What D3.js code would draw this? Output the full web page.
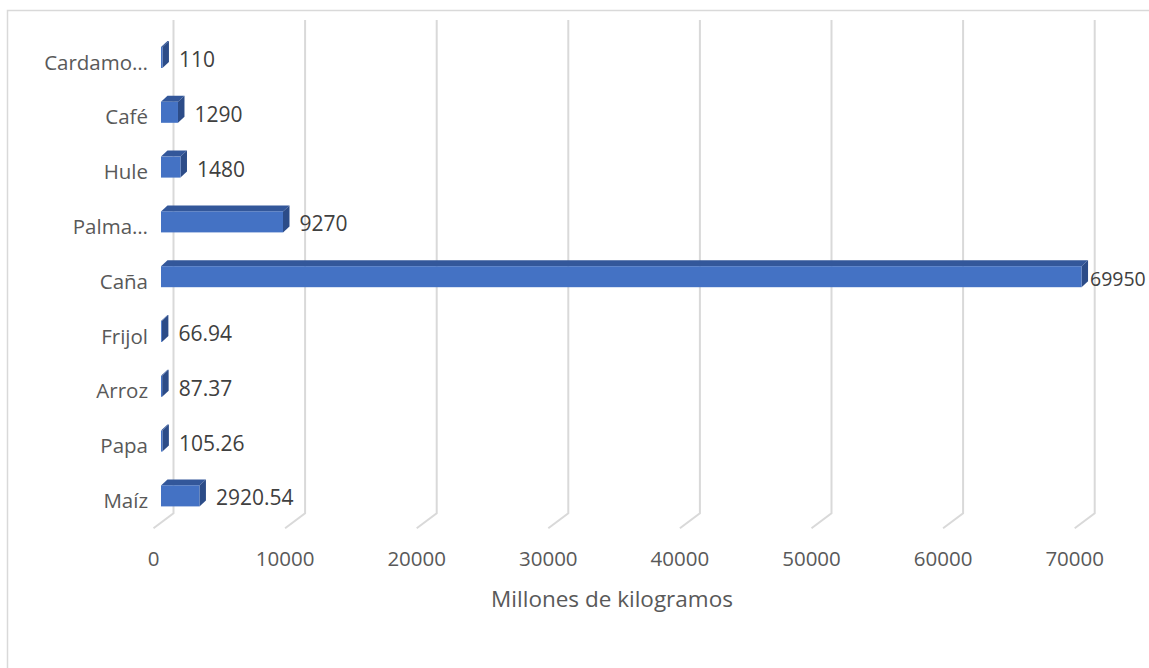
<!DOCTYPE html>
<html>
<head>
<meta charset="utf-8">
<script src="https://cdn.jsdelivr.net/npm/d3@7"></script>
<style>
  body { margin: 0; background: #fff; }
  text { font-family: "Open Sans", sans-serif; }
</style>
</head>
<body>
<script>
// data, bottom to top as in the sheet
var categories = ["Maíz", "Papa", "Arroz", "Frijol", "Caña", "Palma…", "Hule", "Café", "Cardamo…"];
var values = [2920.54, 105.26, 87.37, 66.94, 69950, 9270, 1480, 1290, 110];
var valueLabels = ["2920.54", "105.26", "87.37", "66.94", "69950", "9270", "1480", "1290", "110"];
var tickValues = [0, 10000, 20000, 30000, 40000, 50000, 60000, 70000];
var axisTitle = "Millones de kilogramos";

var width = 1149, height = 668;

var svg = d3.select("body").append("svg")
    .attr("width", width)
    .attr("height", height);

// chart border
svg.append("rect")
    .attr("x", 7.5).attr("y", 10.5)
    .attr("width", 1160).attr("height", 680)
    .attr("fill", "none")
    .attr("stroke", "#d9d9d9")
    .attr("stroke-width", 1.5);

var x = d3.scaleLinear().domain([0, 70000]).range([0, 921.2]);
var y = d3.scalePoint()
    .domain(categories.slice().reverse())
    .range([30.1, 523.3])
    .padding(0.5);

// depth offsets (oblique 3D)
var wallX = 173.5, wallTop = 20, wallBottom = 513.3;
var floorX = 153.5, floorY = 528.3;
var barX = 161, depthX = 6.5, depthY = 6, barH = 21;

// gridlines on back wall + floor
var grid = svg.append("g")
    .attr("fill", "none")
    .attr("stroke", "#d9d9d9")
    .attr("stroke-width", 2);

grid.selectAll("path")
  .data(tickValues)
  .enter().append("path")
    .attr("d", function(d) {
      return "M" + (wallX + x(d)) + "," + wallTop +
        "L" + (wallX + x(d)) + "," + wallBottom +
        "L" + (floorX + x(d)) + "," + floorY;
    });

// tick labels
svg.append("g").selectAll("text")
  .data(tickValues)
  .enter().append("text")
    .attr("x", function(d) { return floorX + x(d); })
    .attr("y", 566)
    .attr("text-anchor", "middle")
    .attr("font-size", 20.5)
    .attr("fill", "#595959")
    .text(function(d) { return d; });

svg.append("text")
    .attr("x", 612)
    .attr("y", 607)
    .attr("text-anchor", "middle")
    .attr("font-size", 22.5)
    .attr("fill", "#595959")
    .text(axisTitle);

// category labels
svg.append("g").selectAll("text")
  .data(categories)
  .enter().append("text")
    .attr("x", 148)
    .attr("y", function(d) { return y(d) + 12; })
    .attr("text-anchor", "end")
    .attr("font-size", 20.5)
    .attr("fill", "#595959")
    .text(function(d) { return d; });

// bars
var data = categories.map(function(c, i) { return { cat: c, value: values[i], label: valueLabels[i] }; });

var bars = svg.append("g").selectAll("g")
  .data(data)
  .enter().append("g");

// top face
bars.append("path")
    .attr("fill", "#33579a")
    .attr("d", function(d) {
      var x0 = barX, x1 = barX + x(d.value), t = y(d.cat) - barH / 2;
      return "M" + x0 + "," + t + "L" + (x0 + depthX) + "," + (t - depthY) +
        "L" + (x1 + depthX) + "," + (t - depthY) + "L" + x1 + "," + t + "Z";
    });

// side face
bars.append("path")
    .attr("fill", "#2c4c88")
    .attr("d", function(d) {
      var x1 = barX + x(d.value), t = y(d.cat) - barH / 2, b = t + barH;
      return "M" + x1 + "," + t + "L" + (x1 + depthX) + "," + (t - depthY) +
        "L" + (x1 + depthX) + "," + (b - depthY) + "L" + x1 + "," + b + "Z";
    });

// front face
bars.append("rect")
    .attr("x", barX)
    .attr("y", function(d) { return y(d.cat) - barH / 2; })
    .attr("width", function(d) { return x(d.value); })
    .attr("height", barH)
    .attr("fill", "#4472c4");

// value labels (the long one is pulled in so it stays on the page)
bars.append("text")
    .attr("x", function(d) { return Math.min(barX + x(d.value) + 16.5, 1090); })
    .attr("y", function(d) { return y(d.cat) + 9.5; })
    .attr("font-size", function(d) { return barX + x(d.value) + 16.5 > 1090 ? 19.5 : 21; })
    .attr("fill", "#404040")
    .text(function(d) { return d.label; });
</script>
</body>
</html>
